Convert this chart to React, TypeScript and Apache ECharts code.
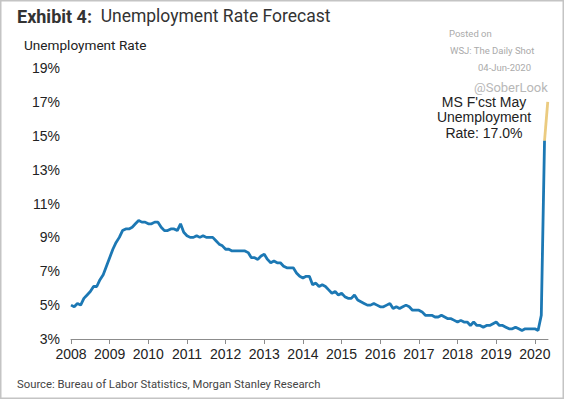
import React, { useEffect, useRef } from "react";
import * as echarts from "echarts";

// Monthly US unemployment rate (%), Jan 2008 – Apr 2020
const rate2008 = [5.0, 4.9, 5.1, 5.0, 5.4, 5.6, 5.8, 6.1, 6.1, 6.5, 6.8, 7.3];
const rate2009 = [7.8, 8.3, 8.7, 9.0, 9.4, 9.5, 9.5, 9.6, 9.8, 10.0, 9.9, 9.9];
const rate2010 = [9.8, 9.8, 9.9, 9.9, 9.6, 9.4, 9.4, 9.5, 9.5, 9.4, 9.8, 9.3];
const rate2011 = [9.1, 9.0, 9.0, 9.1, 9.0, 9.1, 9.0, 9.0, 9.0, 8.8, 8.6, 8.5];
const rate2012 = [8.3, 8.3, 8.2, 8.2, 8.2, 8.2, 8.2, 8.1, 7.8, 7.8, 7.7, 7.9];
const rate2013 = [8.0, 7.7, 7.5, 7.6, 7.5, 7.5, 7.3, 7.2, 7.2, 7.2, 6.9, 6.7];
const rate2014 = [6.6, 6.7, 6.7, 6.2, 6.3, 6.1, 6.2, 6.1, 5.9, 5.7, 5.8, 5.6];
const rate2015 = [5.7, 5.5, 5.4, 5.4, 5.6, 5.3, 5.2, 5.1, 5.0, 5.0, 5.1, 5.0];
const rate2016 = [4.9, 4.9, 5.0, 5.1, 4.8, 4.9, 4.8, 4.9, 5.0, 4.9, 4.7, 4.7];
const rate2017 = [4.7, 4.6, 4.4, 4.4, 4.4, 4.3, 4.3, 4.4, 4.3, 4.2, 4.2, 4.1];
const rate2018 = [4.0, 4.1, 4.0, 4.0, 3.8, 4.0, 3.8, 3.8, 3.7, 3.8, 3.8, 3.9];
const rate2019 = [4.0, 3.8, 3.8, 3.7, 3.6, 3.6, 3.7, 3.6, 3.5, 3.6, 3.6, 3.6];
const rate2020 = [3.6, 3.5, 4.4, 14.7];
const forecastMay2020 = 17.0;

const startYear = 2008;
const yTicks = [3, 5, 7, 9, 11, 13, 15, 17, 19];

export default function App() {
  const ref = useRef<HTMLDivElement>(null);

  useEffect(() => {
    document.body.style.margin = "0";
    if (!ref.current) return;
    const chart = echarts.init(ref.current, undefined, { renderer: "svg" });

    const monthly = [
      ...rate2008, ...rate2009, ...rate2010, ...rate2011, ...rate2012, ...rate2013,
      ...rate2014, ...rate2015, ...rate2016, ...rate2017, ...rate2018, ...rate2019, ...rate2020,
    ];
    const actual = monthly.map((v, i) => [startYear + i / 12, v]);
    const lastIdx = monthly.length - 1;
    const forecast = [
      [startYear + lastIdx / 12, monthly[lastIdx]],
      [startYear + (lastIdx + 1) / 12, forecastMay2020],
    ];

    const font = "Roboto, 'Liberation Sans', Arial, sans-serif";

    chart.setOption({
      animation: false,
      backgroundColor: "#ffffff",
      grid: { left: 71, right: 16, top: 68, bottom: 60, containLabel: false },
      xAxis: {
        type: "value",
        min: 2008,
        max: 2020.34,
        interval: 1,
        axisLine: { show: true, lineStyle: { color: "#8c8c8c", width: 1 } },
        axisTick: { show: true, length: 5, lineStyle: { color: "#8c8c8c" } },
        splitLine: { show: false },
        axisLabel: {
          color: "#222",
          fontSize: 14,
          fontFamily: "'Liberation Sans', Arial, sans-serif",
          margin: 8,
          showMaxLabel: false,
          formatter: (v: number) => String(Math.round(v)),
        },
      },
      yAxis: {
        type: "value",
        min: yTicks[0],
        max: yTicks[yTicks.length - 1],
        interval: 2,
        axisLine: { show: false },
        axisTick: { show: false },
        splitLine: { show: false },
        axisLabel: {
          color: "#222",
          fontSize: 14,
          fontFamily: "'Liberation Sans', Arial, sans-serif",
          margin: 11,
          formatter: "{value}%",
        },
      },
      series: [
        {
          type: "line",
          data: actual,
          showSymbol: false,
          lineStyle: { color: "#1c78b4", width: 2.8 },
          z: 3,
        },
        {
          type: "line",
          data: forecast,
          showSymbol: false,
          lineStyle: { color: "#ebcb80", width: 2.8 },
          z: 2,
        },
      ],
      graphic: [
        {
          type: "text",
          left: 17,
          top: 7,
          style: {
            text: "{b|Exhibit 4:}  Unemployment Rate Forecast",
            rich: {
              b: { fontWeight: "bold", fontSize: 18, fontFamily: font, fill: "#333" },
            },
            fontSize: 17.5,
            fontFamily: font,
            fill: "#333",
          },
        },
        {
          type: "text",
          left: 24,
          top: 38,
          style: { text: "Unemployment Rate", fontSize: 13.6, fontFamily: font, fill: "#222" },
        },
        {
          type: "text",
          left: 449,
          top: 28,
          style: { text: "Posted on", fontSize: 9.5, fontFamily: font, fill: "#aaa" },
        },
        {
          type: "text",
          left: 450,
          top: 45,
          style: { text: "WSJ: The Daily Shot", fontSize: 9.5, fontFamily: font, fill: "#aaa" },
        },
        {
          type: "text",
          right: 33,
          top: 62,
          style: { text: "04-Jun-2020", fontSize: 9.5, fontFamily: font, fill: "#aaa" },
        },
        {
          type: "text",
          left: 474,
          top: 81,
          style: { text: "@SoberLook", fontSize: 13, fontFamily: font, fill: "#b8b8b8" },
        },
        {
          type: "text",
          x: 484,
          y: 94,
          style: {
            text: "MS F'cst May\nUnemployment\nRate: 17.0%",
            fontSize: 14,
            lineHeight: 15.5,
            fontFamily: "'Liberation Sans', Arial, sans-serif",
            fill: "#222",
            align: "center",
          },
        },
        {
          type: "text",
          left: 17,
          top: 379,
          style: {
            text: "Source: Bureau of Labor Statistics, Morgan Stanley Research",
            fontSize: 11.3,
            fontFamily: font,
            fill: "#444",
          },
        },
        {
          type: "rect",
          shape: { x: 0.75, y: 0.75, width: 562.5, height: 397.5 },
          style: { fill: "none", stroke: "#c4c4c4", lineWidth: 1.5 },
          silent: true,
        },
      ],
    });

    return () => chart.dispose();
  }, []);

  return <div ref={ref} style={{ width: 564, height: 399 }} />;
}
